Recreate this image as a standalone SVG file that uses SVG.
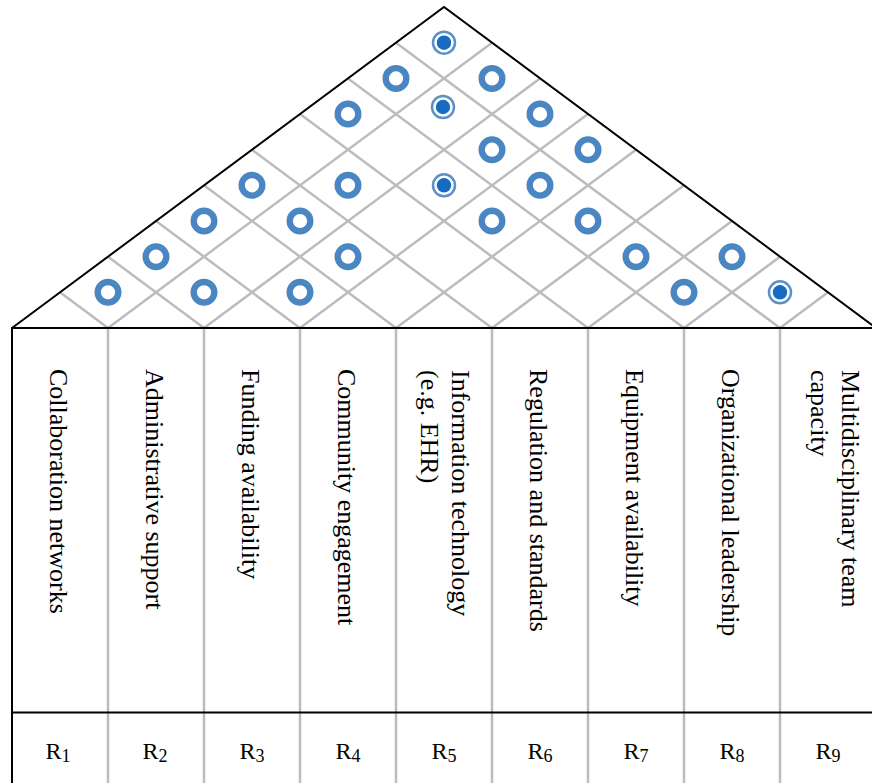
<svg xmlns="http://www.w3.org/2000/svg" xmlns:xlink="http://www.w3.org/1999/xlink" width="872" height="783" viewBox="0 0 872 783">
<style>
.blk{stroke:#000;stroke-width:2;fill:none}
.gry{stroke:#bcbcbc;stroke-width:2.5;fill:none}
.lbl{font-family:"Liberation Serif","Times New Roman",serif;font-size:26px;fill:#000}
.rl{font-family:"Liberation Serif","Times New Roman",serif;font-size:24px;fill:#000;text-anchor:middle}
.sub{font-size:18px}
</style>
<defs>
<g id="ring"><circle r="10.3" fill="none" stroke="#4a86c1" stroke-width="6.4"/></g>
<g id="dot"><circle r="11" fill="none" stroke="#5a91c9" stroke-width="2.5"/><circle r="7.2" fill="#176bc1"/></g>
</defs>
<rect width="872" height="783" fill="#fff"/>
<g id="connectors">
<path class="gry" d="M108,328 L60,292.3 M108,328 L492,42.7
M204,328 L108,256.7 M204,328 L540,78.4
M300,328 L156,221 M300,328 L588,114
M396,328 L204,185.3 M396,328 L636,149.7
M492,328 L252,149.7 M492,328 L684,185.3
M588,328 L300,114 M588,328 L732,221
M684,328 L348,78.4 M684,328 L780,256.7
M780,328 L396,42.7 M780,328 L828,292.3"/>
<path class="gry" d="M108,328V783 M204,328V783 M300,328V783 M396,328V783 M492,328V783 M588,328V783 M684,328V783 M780,328V783"/>
<path class="blk" d="M12,328 L444,7 L876,328"/>
<path class="blk" d="M12,328 H876 M12,327 V783 M12,712.5 H876"/>
</g>
<g id="correlations">
<g id="c1-2"><use xlink:href="#ring" x="108" y="292.3"/></g>
<g id="c2-3"><use xlink:href="#ring" x="204" y="292.3"/></g>
<g id="c3-4"><use xlink:href="#ring" x="300" y="292.3"/></g>
<g id="c7-8"><use xlink:href="#ring" x="684" y="292.3"/></g>
<g id="c8-9"><use xlink:href="#dot" x="780" y="292.3"/></g>
<g id="c1-3"><use xlink:href="#ring" x="156" y="256.7"/></g>
<g id="c3-5"><use xlink:href="#ring" x="348" y="256.7"/></g>
<g id="c6-8"><use xlink:href="#ring" x="636" y="256.7"/></g>
<g id="c7-9"><use xlink:href="#ring" x="732" y="256.7"/></g>
<g id="c1-4"><use xlink:href="#ring" x="204" y="221"/></g>
<g id="c2-5"><use xlink:href="#ring" x="300" y="221"/></g>
<g id="c4-7"><use xlink:href="#ring" x="492" y="221"/></g>
<g id="c5-8"><use xlink:href="#ring" x="588" y="221"/></g>
<g id="c1-5"><use xlink:href="#ring" x="252" y="185.3"/></g>
<g id="c2-6"><use xlink:href="#ring" x="348" y="185.3"/></g>
<g id="c3-7"><use xlink:href="#dot" x="444" y="185.3"/></g>
<g id="c4-8"><use xlink:href="#ring" x="540" y="185.3"/></g>
<g id="c3-8"><use xlink:href="#ring" x="492" y="149.7"/></g>
<g id="c4-9"><use xlink:href="#ring" x="588" y="149.7"/></g>
<g id="c1-7"><use xlink:href="#ring" x="348" y="114"/></g>
<g id="c2-8"><use xlink:href="#dot" x="443" y="107"/></g>
<g id="c3-9"><use xlink:href="#ring" x="540" y="114"/></g>
<g id="c1-8"><use xlink:href="#ring" x="396" y="78.4"/></g>
<g id="c2-9"><use xlink:href="#ring" x="492" y="78.4"/></g>
<g id="c1-9"><use xlink:href="#dot" x="444" y="42.7"/></g>
</g>
<g id="R1"><text class="lbl" transform="translate(50,369) rotate(90)">Collaboration networks</text><text class="rl" x="58" y="759">R<tspan class="sub" dy="3">1</tspan></text></g>
<g id="R2"><text class="lbl" transform="translate(146,369) rotate(90)">Administrative support</text><text class="rl" x="155" y="759">R<tspan class="sub" dy="3">2</tspan></text></g>
<g id="R3"><text class="lbl" transform="translate(242,369) rotate(90)">Funding availability</text><text class="rl" x="252" y="759">R<tspan class="sub" dy="3">3</tspan></text></g>
<g id="R4"><text class="lbl" transform="translate(338,369) rotate(90)">Community engagement</text><text class="rl" x="348" y="759">R<tspan class="sub" dy="3">4</tspan></text></g>
<g id="R5"><text class="lbl" transform="translate(452,370) rotate(90)"><tspan x="0" y="0">Information technology</tspan><tspan x="0" y="31">(e.g. EHR)</tspan></text><text class="rl" x="444" y="759">R<tspan class="sub" dy="3">5</tspan></text></g>
<g id="R6"><text class="lbl" transform="translate(530,369) rotate(90)">Regulation and standards</text><text class="rl" x="540" y="759">R<tspan class="sub" dy="3">6</tspan></text></g>
<g id="R7"><text class="lbl" transform="translate(626,369) rotate(90)">Equipment availability</text><text class="rl" x="636" y="759">R<tspan class="sub" dy="3">7</tspan></text></g>
<g id="R8"><text class="lbl" transform="translate(722,369) rotate(90)">Organizational leadership</text><text class="rl" x="732" y="759">R<tspan class="sub" dy="3">8</tspan></text></g>
<g id="R9"><text class="lbl" transform="translate(842,370) rotate(90)"><tspan x="0" y="0">Multidisciplinary team</tspan><tspan x="0" y="31">capacity</tspan></text><text class="rl" x="828" y="759">R<tspan class="sub" dy="3">9</tspan></text></g>
</svg>
